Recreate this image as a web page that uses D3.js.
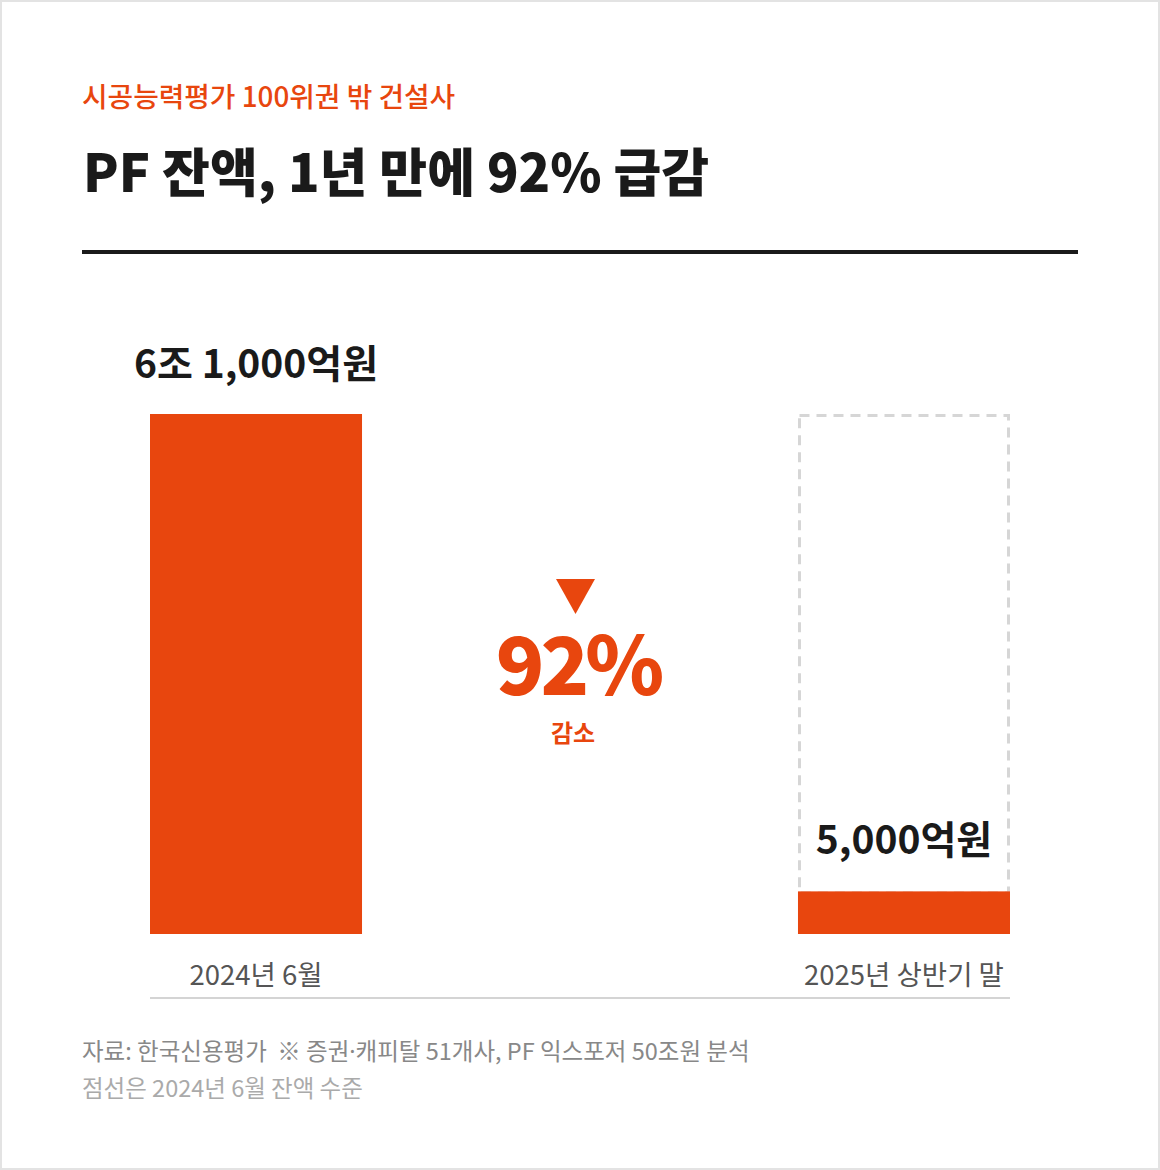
<!DOCTYPE html>
<html>
<head>
<meta charset="utf-8">
<script src="https://cdn.jsdelivr.net/npm/d3@7"></script>
<style>
  body { margin: 0; background: #fff; }
  svg { display: block; font-family: "Noto Sans CJK KR", "Noto Sans", sans-serif; }
</style>
</head>
<body>
<div id="chart"></div>
<script>
// data
var categories = ["2024년 6월", "2025년 상반기 말"]
var values = [61000, 5000]          // 억원
var valueLabels = ["6조 1,000억원", "5,000억원"]
var changeLabel = "92%"
var subtitle = "시공능력평가 100위권 밖 건설사"
var title = "PF 잔액, 1년 만에 92% 급감"
var notes = ["자료: 한국신용평가  ※ 증권·캐피탈 51개사, PF 익스포저 50조원 분석", "점선은 2024년 6월 잔액 수준"]

var W = 1160, H = 1170
var orange = "#e8460e"

var svg = d3.select("#chart").append("svg")
    .attr("width", W)
    .attr("height", H)

// card border
svg.append("rect")
    .attr("x", 1).attr("y", 1)
    .attr("width", W - 2).attr("height", H - 2)
    .attr("fill", "#fff")
    .attr("stroke", "#e3e3e3")
    .attr("stroke-width", 2)

svg.append("text")
    .attr("x", 82).attr("y", 107)
    .attr("fill", orange)
    .style("font-size", "27.8px")
    .style("font-weight", 500)
    .text(subtitle)

svg.append("text")
    .attr("x", 83).attr("y", 192)
    .attr("fill", "#1a1a1a")
    .style("font-size", "52px")
    .style("font-weight", 900)
    .text(title)

svg.append("rect")
    .attr("x", 82).attr("y", 250)
    .attr("width", 996).attr("height", 4)
    .attr("fill", "#1a1a1a")

// scales
var x = d3.scaleBand()
    .domain(categories)
    .range([150, 1010])
    .paddingInner(0.6728)
    .paddingOuter(0)

var y = d3.scaleLinear()
    .domain([0, values[0]])
    .range([934, 414])

// dashed outline of the 2024 level on the second bar
svg.append("rect")
    .attr("x", x(categories[1]) + 1.5)
    .attr("y", y(values[0]) + 1.5)
    .attr("width", x.bandwidth() - 3)
    .attr("height", y(values[1]) - y(values[0]))
    .attr("fill", "none")
    .attr("stroke", "#d6d6d6")
    .attr("stroke-width", 3)
    .attr("stroke-dasharray", "10,7")

svg.selectAll(".bar")
    .data(values)
    .enter().append("rect")
    .attr("class", "bar")
    .attr("x", function(d, i) { return x(categories[i]) })
    .attr("y", function(d) { return y(d) })
    .attr("width", x.bandwidth())
    .attr("height", function(d) { return y(0) - y(d) })
    .attr("fill", orange)

// value labels
svg.selectAll(".val")
    .data(values)
    .enter().append("text")
    .attr("class", "val")
    .attr("x", function(d, i) { return x(categories[i]) + x.bandwidth() / 2 })
    .attr("y", function(d, i) { return i == 0 ? y(d) - 36 : y(d) - 37 })
    .attr("text-anchor", "middle")
    .attr("fill", "#1a1a1a")
    .style("font-size", "39px")
    .style("font-weight", 700)
    .text(function(d, i) { return valueLabels[i] })

// baseline + category labels
svg.append("line")
    .attr("x1", 150).attr("x2", 1010)
    .attr("y1", 998).attr("y2", 998)
    .attr("stroke", "#d4d4d4")
    .attr("stroke-width", 2)

var xAxis = svg.append("g")
    .attr("transform", "translate(0," + 985 + ")")
    .call(d3.axisBottom(x).tickSize(0).tickPadding(0))
xAxis.select(".domain").remove()
xAxis.selectAll("text")
    .attr("y", 0).attr("dy", 0)
    .attr("fill", "#555")
    .style("font-family", "'Noto Sans CJK KR', sans-serif")
    .style("font-size", "27.5px")

// change marker
var cx = 576
svg.append("path")
    .attr("d", d3.line()([[cx - 20, 579], [cx + 19, 579], [cx - 0.5, 614]]) + "Z")
    .attr("fill", orange)

svg.append("text")
    .attr("x", cx + 2).attr("y", 695)
    .attr("text-anchor", "middle")
    .attr("fill", orange)
    .style("font-size", "80px")
    .style("font-weight", 900)
    .style("letter-spacing", "-4px")
    .text(changeLabel)

svg.append("text")
    .attr("x", cx - 3).attr("y", 742)
    .attr("text-anchor", "middle")
    .attr("fill", orange)
    .style("font-size", "24px")
    .style("font-weight", 700)
    .text("감소")

// notes
var noteText = svg.selectAll(".note")
    .data(notes)
    .enter().append("text")
    .attr("class", "note")
    .attr("x", 82)
    .attr("y", function(d, i) { return 1060 + i * 37 })
    .attr("fill", function(d, i) { return i == 0 ? "#888" : "#aaa" })
    .style("font-size", "23.5px")
    .style("white-space", "pre")

// middle dot in a latin font so it stays narrow
noteText.each(function(d) {
    var t = d3.select(this)
    d.split("·").forEach(function(part, k) {
        if (k > 0) t.append("tspan").style("font-family", "'Noto Sans', sans-serif").text("·")
        t.append("tspan").text(part)
    })
})
</script>
</body>
</html>
